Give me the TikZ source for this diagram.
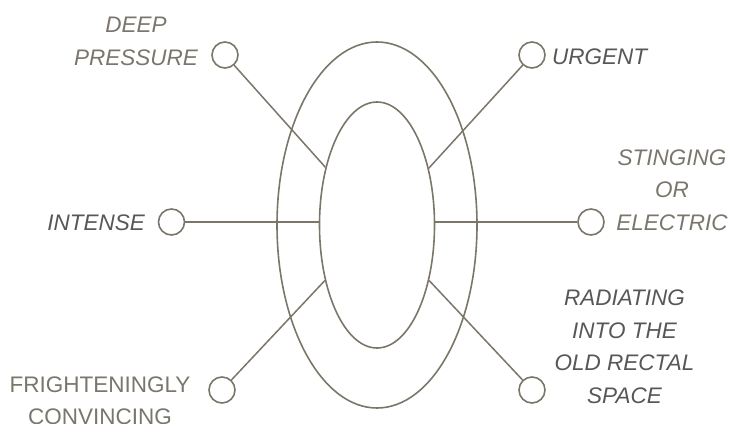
\documentclass[tikz,border=0pt]{standalone}
\usepackage{fontspec}
\setmainfont{Liberation Sans}
\usetikzlibrary{shapes.geometric}
\definecolor{taupe}{HTML}{7A766C}
\definecolor{darkgr}{HTML}{575757}
\definecolor{linec}{HTML}{7B7669}
\begin{document}
\begin{tikzpicture}[x=1pt,y=-1pt,
  ring/.style={ellipse,draw=linec,line width=1.6pt,inner sep=0pt},
  dot/.style={circle,draw=linec,line width=1.6pt,inner sep=0pt,minimum size=26pt},
  conn/.style={draw=linec,line width=1.5pt},
  lbl/.style={font=\fontsize{22.5}{32.5}\selectfont\itshape,align=center,inner sep=0pt},
  lblup/.style={font=\fontsize{22.5}{31.5}\selectfont,align=center,inner sep=0pt}]
\useasboundingbox (0,0) rectangle (733,423);
\node[ring,minimum width=200pt,minimum height=366pt] (outer) at (377,225) {};
\node[ring,minimum width=115pt,minimum height=246pt] (inner) at (377,225) {};
\node[dot] (c1) at (225,55) {};
\node[dot] (c2) at (532,55) {};
\node[dot] (c3) at (171.5,222) {};
\node[dot] (c4) at (591,222) {};
\node[dot] (c5) at (222,390) {};
\node[dot] (c6) at (532,390) {};
\draw[conn] (c1) -- (inner);
\draw[conn] (c2) -- (inner);
\draw[conn] (c3) -- (c3 -| inner.west);
\draw[conn] (c4) -- (c4 -| inner.east);
\draw[conn] (c5) -- (inner);
\draw[conn] (c6) -- (inner);
\node[lbl,text=taupe,anchor=base] (t1) at (136,65) {DEEP\\PRESSURE};
\node[lbl,text=darkgr,anchor=base west] (t2) at (552,64) {URGENT};
\node[lbl,text=darkgr,anchor=base east] (t3) at (145,230) {INTENSE};
\node[lbl,text=taupe,anchor=base] (t4) at (672,230) {STINGING\\OR\\ELECTRIC};
\node[lbl,text=darkgr,anchor=base] (t5) at (624.5,403) {RADIATING\\INTO THE\\OLD RECTAL\\SPACE};
\node[lblup,text=taupe,anchor=base] (t6) at (100,424) {FRIGHTENINGLY\\CONVINCING};
\end{tikzpicture}
\end{document}
